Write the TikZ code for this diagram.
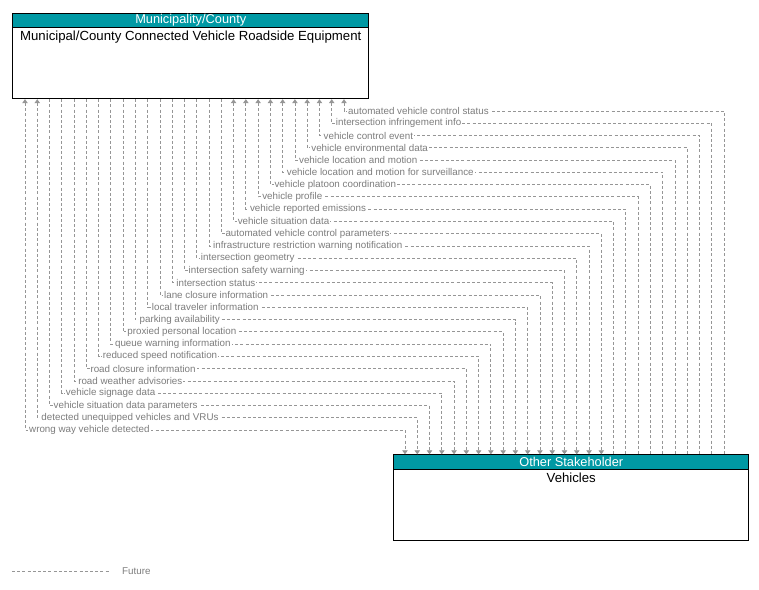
\documentclass[tikz,border=0pt]{standalone}
\usepackage{fontspec}
\setmainfont{Liberation Sans}
\usetikzlibrary{arrows.meta}
\definecolor{hdrteal}{RGB}{0,153,164}
\definecolor{flowgray}{RGB}{150,150,150}
\definecolor{lblgray}{RGB}{125,125,125}

\begin{document}
\begin{tikzpicture}[x=1pt,y=-1pt,
  elem/.style={draw=black,line width=0.9pt,fill=white,inner sep=0pt},
  hdr/.style={draw=black,line width=0.9pt,fill=hdrteal,text=white,minimum height=14.6pt,inner sep=0pt,font=\fontsize{12.8}{13}\selectfont},
  ttl/.style={inner sep=0pt,font=\fontsize{13.2}{14}\selectfont},
  flow/.style={draw=flowgray,line width=0.8pt,dash pattern=on 3pt off 2.2pt,>={Triangle[width=5.5pt,length=4pt]}},
  lbl/.style={anchor=west,fill=white,inner sep=1pt,text=lblgray,font=\fontsize{9.8}{10}\selectfont}]
\useasboundingbox (0,0) rectangle (759,589);

% elements
\node[elem,minimum width=356pt,minimum height=85.6pt,anchor=north west] (rse) at (12.3,12.7) {};
\node[hdr,minimum width=356pt,anchor=north] (rseh) at (rse.north) {Municipality/County};
\node[ttl,anchor=north] (rset) at ([yshift=-2.5pt]rseh.south) {Municipal/County Connected Vehicle Roadside Equipment};

\node[elem,minimum width=355pt,minimum height=85.7pt,anchor=north west] (veh) at (393.3,454.3) {};
\node[hdr,minimum width=355pt,anchor=north] (vehh) at (veh.north) {Other Stakeholder};
\node[ttl,anchor=north] (veht) at ([yshift=-2.5pt]vehh.south) {Vehicles};

% flows
\foreach \lbl [count=\i from 0] in {automated vehicle control status,intersection infringement info,vehicle control event,vehicle environmental data,vehicle location and motion,vehicle location and motion for surveillance,vehicle platoon coordination,vehicle profile,vehicle reported emissions,vehicle situation data} {
  \coordinate (t\i) at ({344-12.27*\i},{111+12.27*\i});
  \coordinate (b\i) at ({724-12.27*\i},{111+12.27*\i});
  \draw[flow,<-] (rse.south -| t\i) -- (t\i) -- (b\i) -- (veh.north -| b\i);
  \node[lbl] (l\i) at ([xshift=3pt]t\i) {\lbl};
}
\foreach \lbl [count=\i from 10] in {automated vehicle control parameters,infrastructure restriction warning notification,intersection geometry,intersection safety warning,intersection status,lane closure information,local traveler information,parking availability,proxied personal location,queue warning information,reduced speed notification,road closure information,road weather advisories,vehicle signage data,vehicle situation data parameters} {
  \coordinate (t\i) at ({344-12.27*\i},{111+12.27*\i});
  \coordinate (b\i) at ({724-12.27*\i},{111+12.27*\i});
  \draw[flow,->] (rse.south -| t\i) -- (t\i) -- (b\i) -- (veh.north -| b\i);
  \node[lbl] (l\i) at ([xshift=3pt]t\i) {\lbl};
}
\foreach \lbl [count=\i from 25] in {detected unequipped vehicles and VRUs,wrong way vehicle detected} {
  \coordinate (t\i) at ({344-12.27*\i},{111+12.27*\i});
  \coordinate (b\i) at ({724-12.27*\i},{111+12.27*\i});
  \draw[flow,<->] (rse.south -| t\i) -- (t\i) -- (b\i) -- (veh.north -| b\i);
  \node[lbl] (l\i) at ([xshift=3pt]t\i) {\lbl};
}

% legend
\coordinate (lg1) at (12,571);
\coordinate (lg2) at (110,571);
\draw[flow] (lg1) -- (lg2);
\node[lbl,fill=none] (lgt) at (121,571) {Future};
\end{tikzpicture}
\end{document}
